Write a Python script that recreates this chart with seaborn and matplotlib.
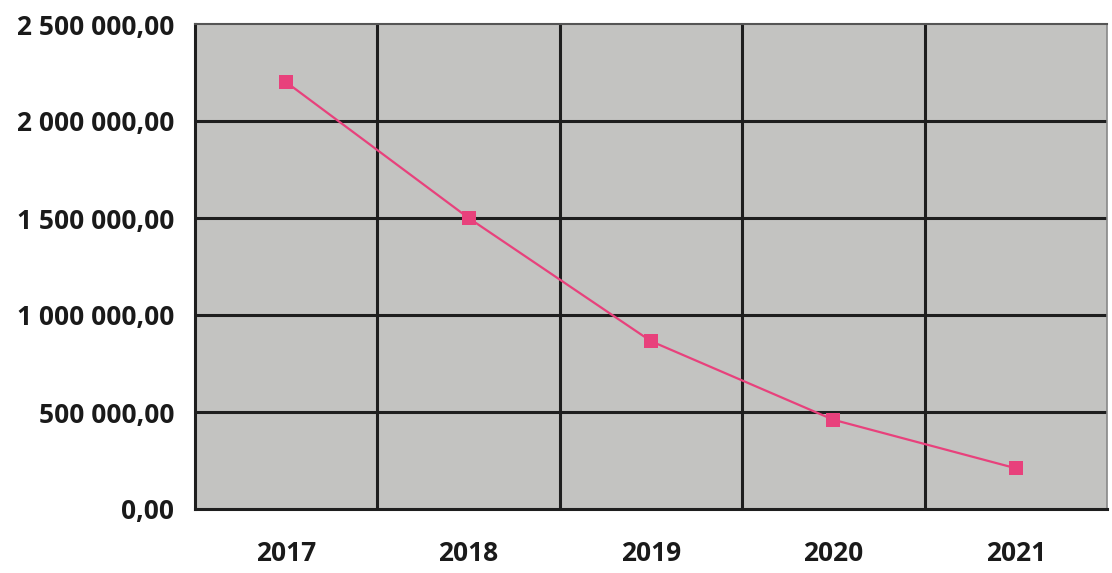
import matplotlib
matplotlib.use("Agg")
import matplotlib.pyplot as plt
from matplotlib.ticker import FuncFormatter, FixedLocator
import seaborn as sns
import pandas as pd

years = ["2017", "2018", "2019", "2020", "2021"]
values = [2200000, 1500000, 865000, 460000, 210000]
y_ticks = [0, 500000, 1000000, 1500000, 2000000, 2500000]

sns.set_style("white")
plt.rcParams["font.family"] = ["Open Sans", "DejaVu Sans"]

df = pd.DataFrame({"year": years, "value": values})

fig = plt.figure(figsize=(11.12, 5.73), dpi=100)
ax = fig.add_axes([195 / 1112, 1 - 509 / 573, (1107 - 195) / 1112, (509 - 24) / 573])
ax.set_facecolor("#c3c3c1")

sns.lineplot(data=df, x="year", y="value", ax=ax, color="#e8417c", linewidth=1.6,
             marker="s", markersize=10, markeredgewidth=0, zorder=5)

n = len(years)
ax.set_xlim(-0.5, n - 0.5)
ax.set_ylim(y_ticks[0], y_ticks[-1])

def fmt(v, _pos):
    s = f"{v:,.2f}".replace(",", " ").replace(".", ",")
    return s

ax.yaxis.set_major_locator(FixedLocator(y_ticks))
ax.yaxis.set_major_formatter(FuncFormatter(fmt))

# category boundaries carry the vertical grid lines and tick marks
bounds = [i - 0.5 for i in range(n + 1)]
ax.xaxis.set_minor_locator(FixedLocator(bounds))
ax.set_xticks(range(n))
ax.set_xticklabels(years)

for b in bounds[1:-1]:
    ax.axvline(b, color="#1e1e1e", linewidth=2.2, zorder=2)
for t in y_ticks[1:-1]:
    ax.axhline(t, color="#1e1e1e", linewidth=2.2, zorder=2)

ax.tick_params(axis="x", which="major", length=0, pad=22, labelsize=19)
ax.tick_params(axis="x", which="minor", length=9, width=2, color="#1e1e1e", direction="out")
ax.tick_params(axis="y", which="major", length=9, width=2, color="#1e1e1e", direction="out",
               pad=6, labelsize=19)
for lab in ax.get_xticklabels() + ax.get_yticklabels():
    lab.set_fontweight("bold")
    lab.set_color("#1a1a1a")

ax.set_xlabel("")
ax.set_ylabel("")

for side in ["left", "bottom"]:
    ax.spines[side].set_color("#1e1e1e")
    ax.spines[side].set_linewidth(2.2)
ax.spines["top"].set_color("#555555")
ax.spines["top"].set_linewidth(1.5)
ax.spines["right"].set_color("#888888")
ax.spines["right"].set_linewidth(1.2)

fig.savefig("out.png", dpi=100, facecolor="white")
